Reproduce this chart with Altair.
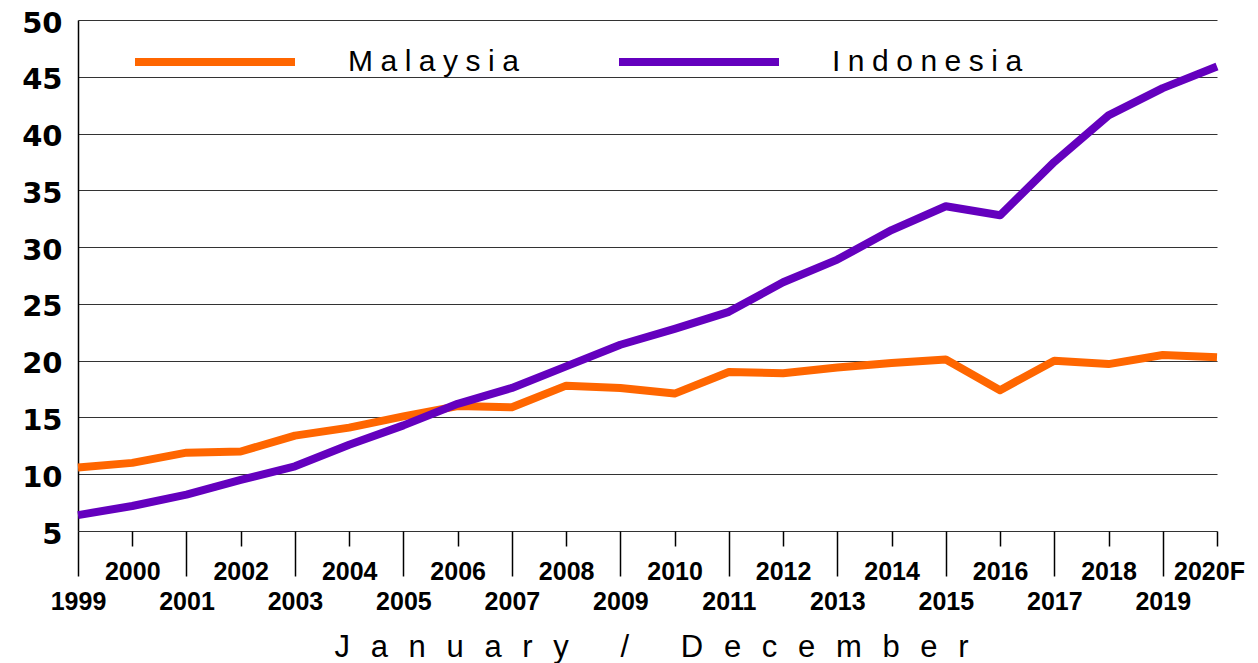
import altair as alt
import pandas as pd

# ---- data ----
years = list(range(1999, 2021))
year_labels = ["1999", "2000", "2001", "2002", "2003", "2004", "2005", "2006",
               "2007", "2008", "2009", "2010", "2011", "2012", "2013", "2014",
               "2015", "2016", "2017", "2018", "2019", "2020F"]
malaysia = [10.6, 11.0, 11.9, 12.0, 13.4, 14.1, 15.1, 16.0, 15.9, 17.8, 17.6,
            17.1, 19.0, 18.9, 19.4, 19.8, 20.1, 17.4, 20.0, 19.7, 20.5, 20.3]
indonesia = [6.4, 7.2, 8.2, 9.5, 10.7, 12.6, 14.3, 16.2, 17.6, 19.5, 21.4,
             22.8, 24.3, 26.9, 28.9, 31.5, 33.6, 32.8, 37.5, 41.6, 44.0, 45.9]
countries = ["Malaysia", "Indonesia"]
colors = ["#FF6600", "#6400BE"]
y_ticks = [5, 10, 15, 20, 25, 30, 35, 40, 45, 50]
x_title = "January / December"

rows = []
for name, vals in zip(countries, [malaysia, indonesia]):
    for yr, lab, v in zip(years, year_labels, vals):
        rows.append({"year": yr, "label": lab, "country": name, "value": v})
df = pd.DataFrame(rows)

even_years = [y for y in years if (y - years[0]) % 2 == 1]
odd_years = [y for y in years if (y - years[0]) % 2 == 0]

label_array = "[" + ",".join("'" + s + "'" for s in year_labels) + "]"
label_expr = f"{label_array}[datum.value - {years[0]}]"

SP3 = "\u2004"  # three-per-em space
spaced_title = (SP3 * 5 + "/" + SP3 * 5).join(
    (SP3 * 2).join(list(w)) for w in x_title.split(" / "))

x_scale = alt.Scale(domain=[years[0], years[-1]], nice=False, zero=False, padding=0)
y_scale = alt.Scale(domain=[5, 50], nice=False, zero=False)

y_enc = alt.Y("value:Q", scale=y_scale, axis=alt.Axis(
    values=y_ticks, title=None, ticks=False, grid=True, gridColor="#333333",
    gridWidth=1.2, domain=True, domainColor="#000000", domainWidth=1.5,
    labelFont="DejaVu Sans", labelFontWeight="bold", labelFontSize=29,
    labelColor="#000000", labelPadding=16, labelOffset=3))

color_enc = alt.Color("country:N",
    scale=alt.Scale(domain=countries, range=colors),
    legend=alt.Legend(
        orient="none", legendX=53, legendY=-42, direction="horizontal",
        title=None, symbolType="stroke", symbolSize=25600, symbolStrokeWidth=8,
        labelOffset=49, labelFontSize=30, labelFont="Liberation Sans",
        labelColor="#000000", columnPadding=84, padding=0, labelLimit=0,
        labelExpr="join(split(datum.label, ''), '\u2005')"))

last_shift = {"condition": {"test": f"datum.value == {years[-1]}", "value": -8},
              "value": 0}

common_axis = dict(domain=False, grid=False, labelFont="Liberation Sans",
                   labelFontWeight="bold", labelFontSize=25, labelColor="#000000",
                   tickColor="#000000", tickWidth=1.5, labelFlush=False,
                   labelOverlap=False, labelExpr=label_expr, orient="bottom",
                   labelPadding=13)

layer_a = alt.Chart(df[df.country == countries[0]]).mark_line(
    strokeWidth=8, strokeJoin="round").encode(
    x=alt.X("year:Q", scale=x_scale,
            axis=alt.Axis(values=even_years, tickSize=15, title=None,
                          labelOffset=last_shift, **common_axis)),
    y=y_enc, color=color_enc)

layer_b = alt.Chart(df[df.country == countries[1]]).mark_line(
    strokeWidth=8, strokeJoin="round").encode(
    x=alt.X("year:Q", scale=x_scale,
            axis=alt.Axis(values=odd_years, tickSize=45, title=spaced_title,
                          titleFont="Liberation Sans", titleFontSize=31,
                          titleFontWeight="normal", titleColor="#000000",
                          titleBaseline="alphabetic", titleY=125, titleX=573,
                          titleAlign="center", **common_axis)),
    y=y_enc, color=color_enc)

chart = alt.layer(layer_a, layer_b).resolve_axis(x="independent").properties(
    width=1139, height=511,
    autosize=alt.AutoSizeParams(type="none"),
    padding={"left": 70, "top": 12, "right": 30, "bottom": 132},
    background="white",
).configure_view(stroke=None)

chart.save("out.html", embed_options={"renderer": "svg", "actions": False})
